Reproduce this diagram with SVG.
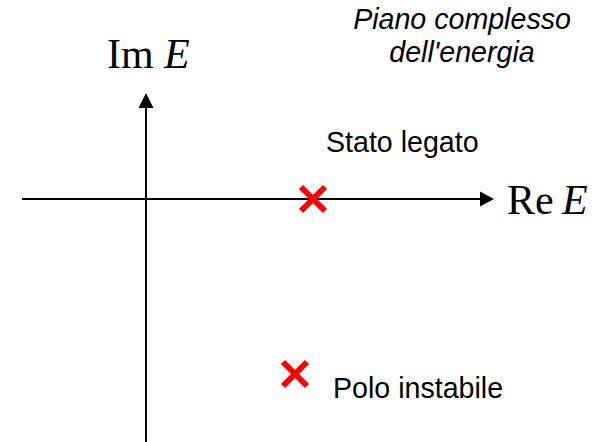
<svg xmlns="http://www.w3.org/2000/svg" width="597" height="442" viewBox="0 0 597 442">
<style>
.ax{stroke:#000;stroke-width:2;fill:none}
.ah{fill:#000}
.x{stroke:#ff0000;stroke-width:6;stroke-linecap:butt}
.tm{font-family:"Liberation Serif",serif;font-size:42px;fill:#000}
.ar{font-family:"Liberation Sans",Arial,sans-serif;font-size:28.6px;fill:#000}
</style>
<rect width="597" height="442" fill="#fff"/>
<g id="connectors">
<line class="ax" x1="146" y1="442" x2="146" y2="104"/>
<polygon class="ah" points="146,93 138.5,108 153.5,108"/>
<line class="ax" x1="22" y1="199" x2="484" y2="199"/>
<polygon class="ah" points="494,199 480,191.5 480,206.5"/>
</g>
<g id="im-label"><text class="tm" x="107" y="68">Im<tspan x="164" font-style="italic">E</tspan></text></g>
<g id="re-label"><text class="tm" x="507" y="214">Re<tspan x="562" font-style="italic">E</tspan></text></g>
<g id="title"><text class="ar" font-style="italic" text-anchor="middle"><tspan x="462" y="29">Piano complesso</tspan><tspan x="462" y="62">dell'energia</tspan></text></g>
<g id="bound-state">
<line class="x" x1="301" y1="187" x2="325" y2="211"/>
<line class="x" x1="325" y1="187" x2="301" y2="211"/>
<text class="ar" x="326" y="152">Stato legato</text>
</g>
<g id="unstable-pole">
<line class="x" x1="283" y1="362" x2="307" y2="386"/>
<line class="x" x1="307" y1="362" x2="283" y2="386"/>
<text class="ar" x="333" y="398">Polo instabile</text>
</g>
</svg>
